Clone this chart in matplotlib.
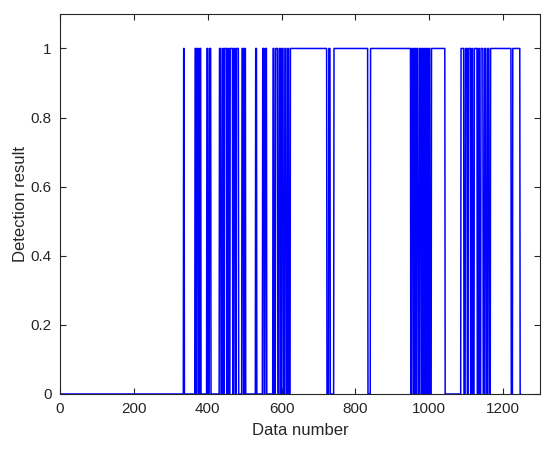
import numpy as np
import matplotlib.pyplot as plt

plt.rcParams['font.family'] = ['Liberation Sans', 'DejaVu Sans']

# samples where the detector output is 1: [start, end)
on_start = [335, 366, 372, 379, 398, 405, 432, 440, 446, 455, 461, 471, 478,
            493, 500, 530, 549, 556, 577, 584, 594, 601, 609, 617,
            624, 728, 742, 841, 953, 960, 966, 974, 981, 987, 993, 999, 1006,
            1086, 1098, 1106, 1115, 1122, 1133, 1140, 1150, 1158, 1166, 1226]
on_end = [337, 369, 376, 382, 401, 409, 436, 443, 452, 458, 468, 475, 484,
          497, 503, 533, 553, 560, 580, 590, 598, 605, 613, 620,
          723, 732, 834, 950, 957, 964, 970, 978, 984, 990, 996, 1002, 1043,
          1094, 1103, 1112, 1118, 1130, 1136, 1146, 1154, 1162, 1222, 1246]
n_samples = 1247

x_ticks = [0, 200, 400, 600, 800, 1000, 1200]
y_ticks = [0, 0.2, 0.4, 0.6, 0.8, 1]
y_tick_labels = ['0', '0.2', '0.4', '0.6', '0.8', '1']

x = np.arange(1, n_samples + 1)
result = np.zeros(n_samples)
for s, e in zip(on_start, on_end):
    result[(x >= s) & (x < e)] = 1

fig = plt.figure(figsize=(5.5, 4.49), dpi=100)
ax = fig.add_axes([0.109, 0.1225, 0.873, 0.8465])
ax.plot(x, result, color=(0, 0, 1), lw=1.1)

ax.set_xlim(0, 1300)
ax.set_ylim(0, 1.1)
ax.set_xticks(x_ticks)
ax.set_yticks(y_ticks)
ax.set_yticklabels(y_tick_labels)
ax.tick_params(direction='in', top=True, right=True, length=4, pad=6,
               labelsize=11, colors='#262626', width=0.8)
for sp in ax.spines.values():
    sp.set_color('#262626')
    sp.set_linewidth(0.8)

ax.set_xlabel('Data number', fontsize=12, color='#262626', labelpad=5)
ax.set_ylabel('Detection result', fontsize=12, color='#262626', labelpad=2)

fig.savefig('out.png', dpi=100)
